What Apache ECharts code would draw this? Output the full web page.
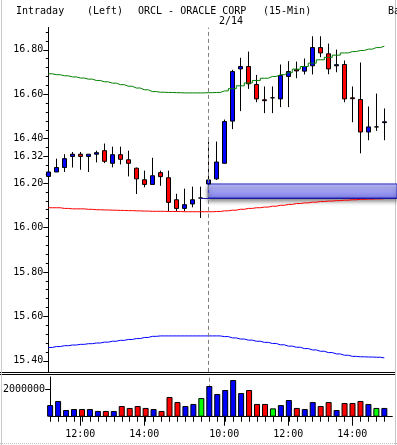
<!DOCTYPE html>
<html>
<head>
<meta charset="utf-8">
<title>ORCL Intraday</title>
<script src="https://cdn.jsdelivr.net/npm/echarts@6.0.0/dist/echarts.min.js"></script>
<style>
  html, body { margin: 0; padding: 0; background: #fff; }
  #main { width: 397px; height: 445px; }
</style>
</head>
<body>
<div id="main"></div>
<script type="text/javascript">
// 15-min bars: 2/13 11:00-15:45, then 2/14 9:30-15:00
var times = ['11:00', '11:15', '11:30', '11:45', '12:00', '12:15', '12:30', '12:45',
    '13:00', '13:15', '13:30', '13:45', '14:00', '14:15', '14:30', '14:45',
    '15:00', '15:15', '15:30', '15:45',
    '9:30', '9:45', '10:00', '10:15', '10:30', '10:45', '11:00', '11:15', '11:30', '11:45',
    '12:00', '12:15', '12:30', '12:45', '13:00', '13:15', '13:30', '13:45',
    '14:00', '14:15', '14:30', '14:45', '15:00'];

var open = [16.23, 16.25, 16.27, 16.32, 16.33, 16.32, 16.33, 16.346, 16.289, 16.328,
    16.305, 16.267, 16.215, 16.194, 16.247, 16.224, 16.125, 16.086, 16.106, 16.133,
    16.196, 16.219, 16.289, 16.479, 16.714, 16.725, 16.644, 16.575, 16.584, 16.579,
    16.68, 16.71, 16.704, 16.728, 16.81, 16.782, 16.728, 16.734, 16.584, 16.576,
    16.43, 16.453, 16.472];
var close = [16.25, 16.27, 16.31, 16.33, 16.32, 16.33, 16.337, 16.298, 16.328, 16.307,
    16.289, 16.219, 16.194, 16.233, 16.229, 16.113, 16.086, 16.103, 16.125, 16.133,
    16.214, 16.295, 16.477, 16.702, 16.725, 16.647, 16.579, 16.571, 16.584, 16.684,
    16.702, 16.705, 16.725, 16.81, 16.786, 16.714, 16.733, 16.579, 16.58, 16.43,
    16.453, 16.453, 16.476];
var low = [16.15, 16.25, 16.25, 16.27, 16.26, 16.25, 16.293, 16.29, 16.271, 16.284,
    16.23, 16.151, 16.181, 16.194, 16.188, 16.073, 16.073, 16.073, 16.091, 16.043,
    16.196, 16.214, 16.289, 16.443, 16.524, 16.624, 16.564, 16.515, 16.515, 16.542,
    16.542, 16.672, 16.689, 16.689, 16.767, 16.69, 16.699, 16.564, 16.474, 16.334,
    16.393, 16.435, 16.393];
var high = [16.27, 16.31, 16.33, 16.34, 16.34, 16.33, 16.346, 16.378, 16.364, 16.364,
    16.346, 16.27, 16.256, 16.314, 16.256, 16.256, 16.152, 16.175, 16.184, 16.184,
    16.387, 16.387, 16.486, 16.71, 16.764, 16.792, 16.687, 16.635, 16.635, 16.734,
    16.749, 16.747, 16.761, 16.861, 16.861, 16.828, 16.801, 16.752, 16.635, 16.743,
    16.545, 16.603, 16.536];
var volume = [850000, 1150000, 490000, 560000, 560000, 560000, 420000, 420000, 420000, 780000,
    640000, 780000, 640000, 560000, 420000, 1440000, 1070000, 780000, 930000, 1360000,
    2240000, 1660000, 1950000, 2680000, 1730000, 1950000, 930000, 930000, 610000, 850000,
    1220000, 640000, 560000, 1070000, 780000, 1070000, 490000, 1000000, 1000000, 1150000,
    930000, 640000, 640000];

// bollinger bands
var upper = [16.692, 16.688, 16.683, 16.678, 16.673, 16.668, 16.662, 16.656, 16.65, 16.643,
    16.636, 16.628, 16.62, 16.612, 16.609, 16.608, 16.607, 16.606, 16.606, 16.606,
    16.607, 16.608, 16.615, 16.625, 16.638, 16.651, 16.662, 16.672, 16.68, 16.688,
    16.697, 16.713, 16.725, 16.74, 16.755, 16.766, 16.776, 16.786, 16.792, 16.797,
    16.803, 16.81, 16.816];
var middle = [16.089, 16.089, 16.086, 16.084, 16.084, 16.082, 16.08, 16.079, 16.078, 16.077,
    16.076, 16.075, 16.074, 16.073, 16.073, 16.072, 16.072, 16.071, 16.071, 16.071,
    16.071, 16.072, 16.075, 16.078, 16.082, 16.086, 16.089, 16.092, 16.096, 16.1,
    16.104, 16.108, 16.111, 16.114, 16.117, 16.119, 16.121, 16.123, 16.125, 16.127,
    16.128, 16.129, 16.13];
var lower = [15.46, 15.464, 15.468, 15.471, 15.474, 15.477, 15.48, 15.484, 15.488, 15.492,
    15.496, 15.5, 15.505, 15.51, 15.512, 15.512, 15.512, 15.512, 15.512, 15.512,
    15.512, 15.512, 15.509, 15.503, 15.498, 15.493, 15.488, 15.483, 15.478, 15.472,
    15.466, 15.461, 15.455, 15.449, 15.443, 15.437, 15.431, 15.425, 15.42, 15.418,
    15.417, 15.416, 15.413];

var priceTicks = [15.4, 15.6, 15.8, 16.0, 16.2, 16.32, 16.4, 16.6, 16.8];
var volTicks = [2000000];

var FONT = 'DejaVu Sans Mono';
var dayStart = 20; // first bar of 2/14
var cats = times.concat(['']); // one empty slot at the right

var minorTicks = [];
for (var k = 0; k <= 37; k++) minorTicks.push(+(15.4 + k * 0.04).toFixed(2));

var candleData = open.map(function (o, i) { return [o, close[i], low[i], high[i]]; });
var volData = volume.map(function (v, i) {
    var c = close[i] > open[i] ? '#0000ff' : (close[i] < open[i] ? '#ff0000' : '#00ff00');
    return { value: v, itemStyle: { color: c } };
});
var evenHour = function (i, v) {
    return /:00$/.test(v) && parseInt(v, 10) % 2 === 0;
};

var mainGrid = { left: 48.3, top: 27.6, width: 344, height: 344.3 };
var volGrid = { left: 48.3, top: 377, width: 344, height: 39.7 };
var txt = { fontFamily: FONT, fontSize: 10, color: '#000', fontWeight: 'normal' };

var sepLine = {
    silent: true, symbol: ['none', 'none'], label: { show: false },
    lineStyle: { color: '#808080', type: [4, 3], width: 1 },
    data: [{ xAxis: dayStart }]
};

var myChart = echarts.init(document.getElementById('main'));

var option = {
    animation: false,
    backgroundColor: '#fff',
    title: [
        { text: 'Intraday', left: 11, top: 1, textStyle: txt },
        { text: '(Left)', left: 82, top: 1, textStyle: txt },
        { text: 'ORCL - ORACLE CORP', left: 133, top: 1, textStyle: txt },
        { text: '(15-Min)', left: 258, top: 1, textStyle: txt },
        { text: 'Ba', left: 383, top: 1, textStyle: txt },
        { text: '2/14', left: 214, top: 11, textStyle: txt }
    ],
    grid: [mainGrid, volGrid, mainGrid, volGrid],
    xAxis: [
        { type: 'category', gridIndex: 0, data: cats, boundaryGap: false, show: false },
        {
            type: 'category', gridIndex: 1, data: cats, boundaryGap: false,
            axisLine: { lineStyle: { color: '#000', width: 1 } },
            axisTick: { length: 5, interval: function (i) { return i < times.length; }, lineStyle: { color: '#000' } },
            axisLabel: { show: false }
        },
        { type: 'category', gridIndex: 2, data: cats, boundaryGap: false, show: false },
        {
            type: 'category', gridIndex: 3, data: cats, boundaryGap: false,
            axisLine: { show: false },
            axisTick: { length: 9, interval: evenHour, lineStyle: { color: '#000' } },
            axisLabel: Object.assign({ interval: evenHour, margin: 13 }, txt)
        }
    ],
    yAxis: [
        {
            type: 'value', gridIndex: 0, min: 15.35, max: 16.9,
            axisLine: { show: true, lineStyle: { color: '#000', width: 1 } },
            axisTick: { show: true, length: 5, customValues: priceTicks, lineStyle: { color: '#000' } },
            axisLabel: Object.assign({ customValues: priceTicks, margin: 5,
                formatter: function (v) { return v.toFixed(2); } }, txt),
            splitLine: { show: false }
        },
        {
            type: 'value', gridIndex: 1, min: 0, max: 2900000,
            axisLine: { show: true, lineStyle: { color: '#000', width: 1 } },
            axisTick: { show: true, length: 5, customValues: volTicks, lineStyle: { color: '#000' } },
            axisLabel: Object.assign({ customValues: volTicks, margin: 5,
                formatter: function (v) { return String(v); } }, txt),
            splitLine: { show: false }
        },
        {
            type: 'value', gridIndex: 2, min: 15.35, max: 16.9,
            axisLine: { show: true, lineStyle: { color: '#000', width: 1 } },
            axisTick: { show: true, length: 2.5, customValues: minorTicks, lineStyle: { color: '#000' } },
            axisLabel: { show: false },
            splitLine: { show: false }
        },
        { type: 'value', gridIndex: 3, show: false }
    ],
    series: [
        {
            // gap between 2/13 close and 2/14 open
            name: 'gap', type: 'line', xAxisIndex: 0, yAxisIndex: 0, data: [], clip: false,
            markArea: {
                silent: true,
                itemStyle: {
                    color: {
                        type: 'linear', x: 0, y: 0, x2: 0, y2: 1,
                        colorStops: [{ offset: 0, color: '#c4c4ff' }, { offset: 1, color: '#7c7ce6' }]
                    },
                    borderColor: '#2a2ac0', borderWidth: 1,
                    shadowBlur: 4, shadowOffsetY: 3, shadowColor: 'rgba(0,0,0,0.45)'
                },
                data: [[{ xAxis: dayStart, yAxis: open[dayStart] }, { x: '100%', yAxis: close[dayStart - 1] }]]
            },
            markLine: {
                silent: true, symbol: ['none', 'none'], label: { show: false },
                lineStyle: { color: '#1a1aa0', type: 'solid', width: 1 },
                data: [[{ xAxis: dayStart - 1, yAxis: close[dayStart - 1] }, { x: '100%', yAxis: close[dayStart - 1] }]]
            }
        },
        {
            name: 'ORCL', type: 'candlestick', xAxisIndex: 0, yAxisIndex: 0,
            data: candleData, barWidth: 5, clip: true,
            itemStyle: {
                color: '#0000ff', color0: '#ff0000',
                borderColor: '#000', borderColor0: '#000', borderColorDoji: '#000', borderWidth: 1
            },
            markLine: sepLine
        },
        { name: 'Upper', type: 'line', xAxisIndex: 0, yAxisIndex: 0, data: upper, step: 'middle',
          showSymbol: false, lineStyle: { color: '#008000', width: 1 } },
        { name: 'Middle', type: 'line', xAxisIndex: 0, yAxisIndex: 0, data: middle, step: 'middle',
          showSymbol: false, lineStyle: { color: '#ff0000', width: 1 } },
        { name: 'Lower', type: 'line', xAxisIndex: 0, yAxisIndex: 0, data: lower, step: 'middle',
          showSymbol: false, lineStyle: { color: '#0000ff', width: 1 } },
        {
            name: 'sep', type: 'line', xAxisIndex: 1, yAxisIndex: 1, data: [], z: 1,
            markLine: Object.assign({ z: 1 }, sepLine)
        },
        {
            name: 'Volume', type: 'bar', xAxisIndex: 1, yAxisIndex: 1, data: volData,
            barWidth: 6, clip: true, itemStyle: { borderColor: '#000', borderWidth: 1 }
        }
    ],
    graphic: [
        { type: 'line', shape: { x1: 0, y1: 372.5, x2: 395, y2: 372.5 }, style: { stroke: '#000', lineWidth: 1 } },
        { type: 'line', shape: { x1: 0, y1: 374.5, x2: 395, y2: 374.5 }, style: { stroke: '#000', lineWidth: 1 } },
        { type: 'line', shape: { x1: 1.5, y1: 0, x2: 1.5, y2: 445 }, style: { stroke: '#c8c8c8', lineWidth: 1 } },
        { type: 'line', shape: { x1: 395.5, y1: 0, x2: 395.5, y2: 445 }, style: { stroke: '#c8c8c8', lineWidth: 1 } },
        { type: 'line', shape: { x1: 0, y1: 443.5, x2: 397, y2: 443.5 }, style: { stroke: '#c0c0c0', lineWidth: 1, lineDash: [1, 1] } }
    ]
};

myChart.setOption(option);
</script>
</body>
</html>
